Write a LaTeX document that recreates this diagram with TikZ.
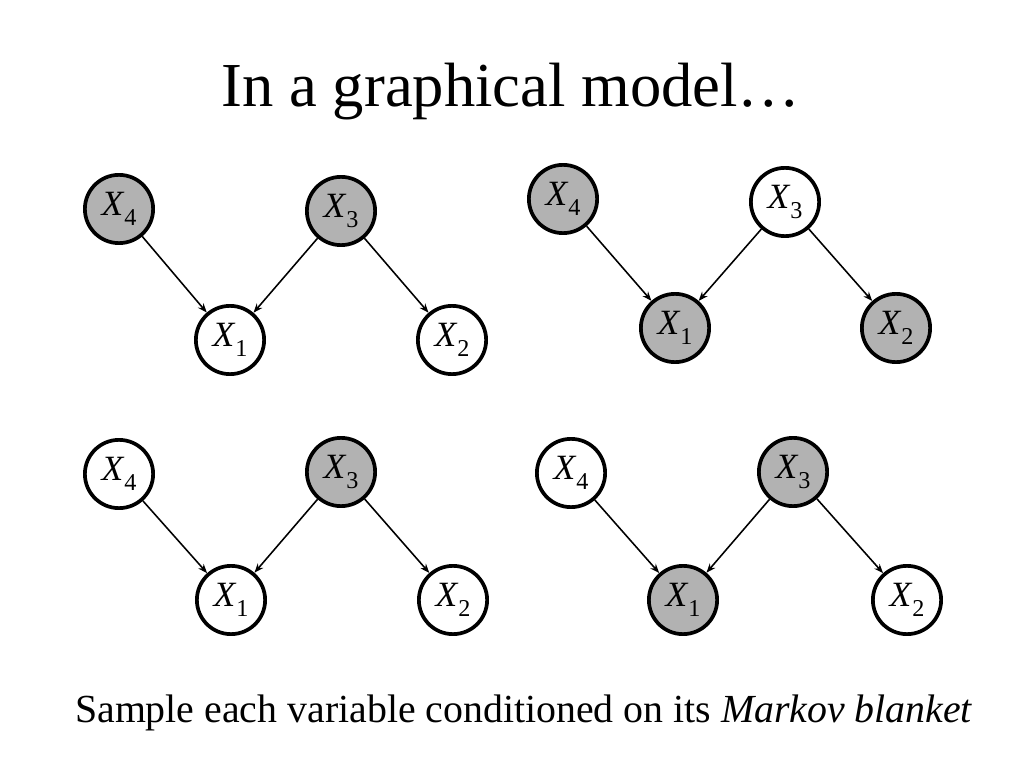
\documentclass[tikz,border=0pt]{standalone}
\usepackage{fontspec}
\setmainfont{Liberation Serif}
\usetikzlibrary{arrows.meta}
\definecolor{obsgray}{RGB}{178,178,178}
\newcommand{\lowsub}[1]{\raisebox{-0.28em}{\fontsize{17}{17}\selectfont #1}}

\begin{document}
\begin{tikzpicture}[x=0.703125pt, y=-0.703125pt,
  varnode/.style={draw, circle, line width=2.6pt, minimum size=48pt, inner sep=0pt, fill=white, font=\fontsize{25}{25}\selectfont},
  shaded/.style={fill=obsgray},
  edge/.style={-{Stealth[length=6.5pt, width=5pt]}, line width=1.1pt}]
\useasboundingbox (0,0) rectangle (1024,768);
% Title
\node[anchor=base, font=\fontsize{44}{44}\selectfont] (title) at (511,107) {In a graphical model…};
% Top left
\node[varnode, shaded] (a4) at (119,209) {\textit{X}\lowsub{4}};
\node[varnode, shaded] (a3) at (341,211) {\textit{X}\lowsub{3}};
\node[varnode] (a1) at (230,340) {\textit{X}\lowsub{1}};
\node[varnode] (a2) at (452,340) {\textit{X}\lowsub{2}};
% Top right
\node[varnode, shaded] (b4) at (563,199) {\textit{X}\lowsub{4}};
\node[varnode] (b3) at (785,202) {\textit{X}\lowsub{3}};
\node[varnode, shaded] (b1) at (675,328) {\textit{X}\lowsub{1}};
\node[varnode, shaded] (b2) at (896,328) {\textit{X}\lowsub{2}};
% Bottom left
\node[varnode] (c4) at (119,474) {\textit{X}\lowsub{4}};
\node[varnode, shaded] (c3) at (341,472) {\textit{X}\lowsub{3}};
\node[varnode] (c1) at (231,600) {\textit{X}\lowsub{1}};
\node[varnode] (c2) at (453,600) {\textit{X}\lowsub{2}};
% Bottom right
\node[varnode] (d4) at (571,473) {\textit{X}\lowsub{4}};
\node[varnode, shaded] (d3) at (793,472) {\textit{X}\lowsub{3}};
\node[varnode, shaded] (d1) at (683,600) {\textit{X}\lowsub{1}};
\node[varnode] (d2) at (907,600) {\textit{X}\lowsub{2}};
% Arrows
\draw[edge] (a4) -- (a1);
\draw[edge] (a3) -- (a1);
\draw[edge] (a3) -- (a2);
\draw[edge] (b4) -- (b1);
\draw[edge] (b3) -- (b1);
\draw[edge] (b3) -- (b2);
\draw[edge] (c4) -- (c1);
\draw[edge] (c3) -- (c1);
\draw[edge] (c3) -- (c2);
\draw[edge] (d4) -- (d1);
\draw[edge] (d3) -- (d1);
\draw[edge] (d3) -- (d2);
% Caption
\node[anchor=base, font=\fontsize{28}{28}\selectfont] (caption) at (524,722) {Sample each variable conditioned on its \textit{Markov blanket}};
\end{tikzpicture}
\end{document}
